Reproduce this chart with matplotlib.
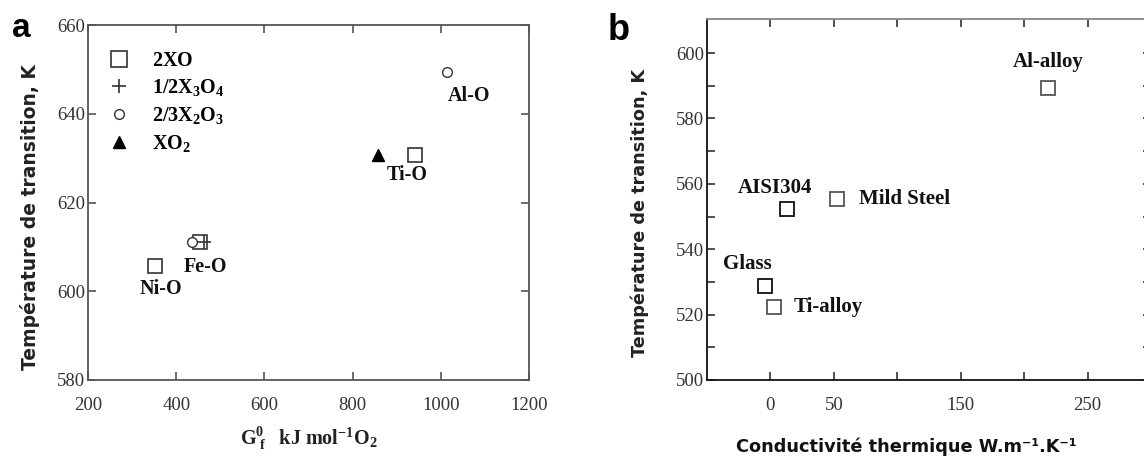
import matplotlib
matplotlib.use("Agg")
import matplotlib.pyplot as plt
from matplotlib.lines import Line2D

plt.rcParams['mathtext.fontset'] = 'custom'
plt.rcParams['mathtext.rm'] = 'Liberation Serif'
plt.rcParams['mathtext.bf'] = 'Liberation Serif:bold'
plt.rcParams['mathtext.it'] = 'Liberation Serif:italic'

# ---------------- Panel a data ----------------
xo_x = [353, 454, 942]          # 2XO  (Ni-O, Fe-O, Ti-O)
xo_y = [605.7, 611.0, 630.7]
x3o4_x = [463]                  # 1/2X3O4 (Fe-O)
x3o4_y = [611.0]
x2o3_x = [435, 1015]            # 2/3X2O3 (Fe-O, Al-O)
x2o3_y = [611.0, 649.4]
xo2_x = [857]                   # XO2 (Ti-O)
xo2_y = [630.7]

series_labels_a = [r'$\mathbf{2XO}$', r'$\mathbf{1/2X_3O_4}$',
                   r'$\mathbf{2/3X_2O_3}$', r'$\mathbf{XO_2}$']
oxide_names = ['Al-O', 'Ti-O', 'Fe-O', 'Ni-O']
oxide_label_x = [1065, 923, 466, 366]
oxide_label_y = [644.1, 626.2, 605.5, 600.5]
xticks_a = [200, 400, 600, 800, 1000, 1200]
yticks_a = [580, 600, 620, 640, 660]

# ---------------- Panel b data ----------------
materials = ['Glass', 'Ti-alloy', 'AISI304', 'Mild Steel', 'Al-alloy']
conductivity = [-4.3, 2.8, 12.9, 52.8, 219]
t_transition = [528.7, 522.3, 552.3, 555.3, 589.3]
mat_label_x = [-18.3, 18.6, 3.6, 69.8, 219]
mat_label_y = [535.5, 522.3, 558.7, 555.3, 597.2]
mat_label_ha = ['center', 'left', 'center', 'left', 'center']
xticks_b = [0, 50, 100, 150, 200, 250, 300]
xticklabels_b = ['0', '50', '', '150', '', '250', '']
yticks_b = [500, 520, 540, 560, 580, 600]

W, H = 1144, 457
fig = plt.figure(figsize=(W / 100, H / 100), dpi=100)

def box(l, r, t, b):
    return [l / W, (H - b) / H, (r - l) / W, (b - t) / H]

serif = 'Liberation Serif'
tickcol = '#333333'

# ---------------- Panel a ----------------
axa = fig.add_axes(box(88, 529, 25, 380))
axa.plot(xo_x, xo_y, ls='none', marker='s', ms=10, mfc='white', mec='#333333', mew=1.2)
axa.plot(x3o4_x, x3o4_y, ls='none', marker='+', ms=10, mec='#333333', mew=1.2)
axa.plot(x2o3_x, x2o3_y, ls='none', marker='o', ms=7, mfc='white', mec='#333333', mew=1.0)
axa.plot(xo2_x, xo2_y, ls='none', marker='^', ms=9, mfc='black', mec='black')
for name, lx, ly in zip(oxide_names, oxide_label_x, oxide_label_y):
    axa.text(lx, ly, name, ha='center', va='center', fontsize=14.5,
             fontweight='bold', family=serif, color='#111111')
axa.set_xlim(200, 1200)
axa.set_ylim(580, 660)
axa.set_xticks(xticks_a)
axa.set_yticks(yticks_a)
axa.tick_params(direction='in', top=True, right=True, length=6, width=1.2,
                color='#555555', labelcolor=tickcol, labelsize=13.5, pad=12)
axa.tick_params(axis='y', pad=2)
for lab in axa.get_xticklabels() + axa.get_yticklabels():
    lab.set_family(serif)
for sp in axa.spines.values():
    sp.set_color('#555555')
    sp.set_linewidth(1.3)
handles = [
    Line2D([], [], ls='none', marker='s', ms=11, mfc='white', mec='#333333', mew=1.2),
    Line2D([], [], ls='none', marker='+', ms=10, mec='#333333', mew=1.2),
    Line2D([], [], ls='none', marker='o', ms=7, mfc='white', mec='#333333', mew=1.0),
    Line2D([], [], ls='none', marker='^', ms=9, mfc='black', mec='black'),
]
axa.legend(handles, series_labels_a, loc='upper left', frameon=False,
           bbox_to_anchor=(0.03, 0.95), fontsize=14.5, handlelength=1.0,
           handletextpad=1.1, labelspacing=0.35, borderaxespad=0)
axa.set_xlabel(r'$\mathbf{G^{0}_{\ f}}\ \ \ \mathbf{kJ\ mol^{-1}O_2}$', fontsize=14.5,
               labelpad=8, color='#222222')
axa.set_ylabel('Température de transition, K', fontsize=13.5, fontweight='bold',
               family='DejaVu Sans', color='#222222')
axa.yaxis.set_label_coords((40 - 88) / 441, (380 - 217) / 355)

# ---------------- Panel b ----------------
axb = fig.add_axes(box(707, 1151, 19, 380))
edge_cols = ['#111111', '#555555', '#111111', '#555555', '#555555']
for xv, yv, ec in zip(conductivity, t_transition, edge_cols):
    axb.plot([xv], [yv], ls='none', marker='s', ms=10, mfc='white', mec=ec, mew=1.3)
for name, lx, ly, ha in zip(materials, mat_label_x, mat_label_y, mat_label_ha):
    axb.text(lx, ly, name, ha=ha, va='center', fontsize=15,
             fontweight='bold', family=serif, color='#111111')
axb.set_xlim(-50, 300)
axb.set_ylim(500, 610.4)
axb.set_xticks(xticks_b)
axb.set_xticklabels(xticklabels_b)
axb.set_yticks(yticks_b)
axb.set_yticks([510, 530, 550, 570, 590], minor=True)
axb.tick_params(which='both', direction='in', top=True, right=True, length=6, width=1.2,
                color='#333333', labelcolor=tickcol, labelsize=13.5, pad=12)
axb.tick_params(axis='y', which='both', pad=2)
for lab in axb.get_xticklabels() + axb.get_yticklabels():
    lab.set_family(serif)
axb.spines['left'].set_color('#111111')
axb.spines['bottom'].set_color('#111111')
axb.spines['top'].set_color('#888888')
axb.spines['right'].set_color('#cccccc')
for sp in axb.spines.values():
    sp.set_linewidth(1.3)
axb.set_xlabel('Conductivité thermique W.m⁻¹.K⁻¹', fontsize=12.8, fontweight='bold',
               family='DejaVu Sans', color='#111111')
axb.xaxis.set_label_coords((906 - 707) / 444, -(437 - 380) / 361)
axb.set_ylabel('Température de transition, K', fontsize=12.7, fontweight='bold',
               family='DejaVu Sans', color='#222222')
axb.yaxis.set_label_coords((649 - 707) / 444, (380 - 213) / 361)

# panel letters
fig.text(12 / W, 1 - 37 / H, 'a', fontsize=24, fontweight='bold', family='Liberation Sans')
fig.text(608 / W, 1 - 40 / H, 'b', fontsize=26, fontweight='bold', family='Liberation Sans')

fig.savefig('out.png', dpi=100, facecolor='white')
